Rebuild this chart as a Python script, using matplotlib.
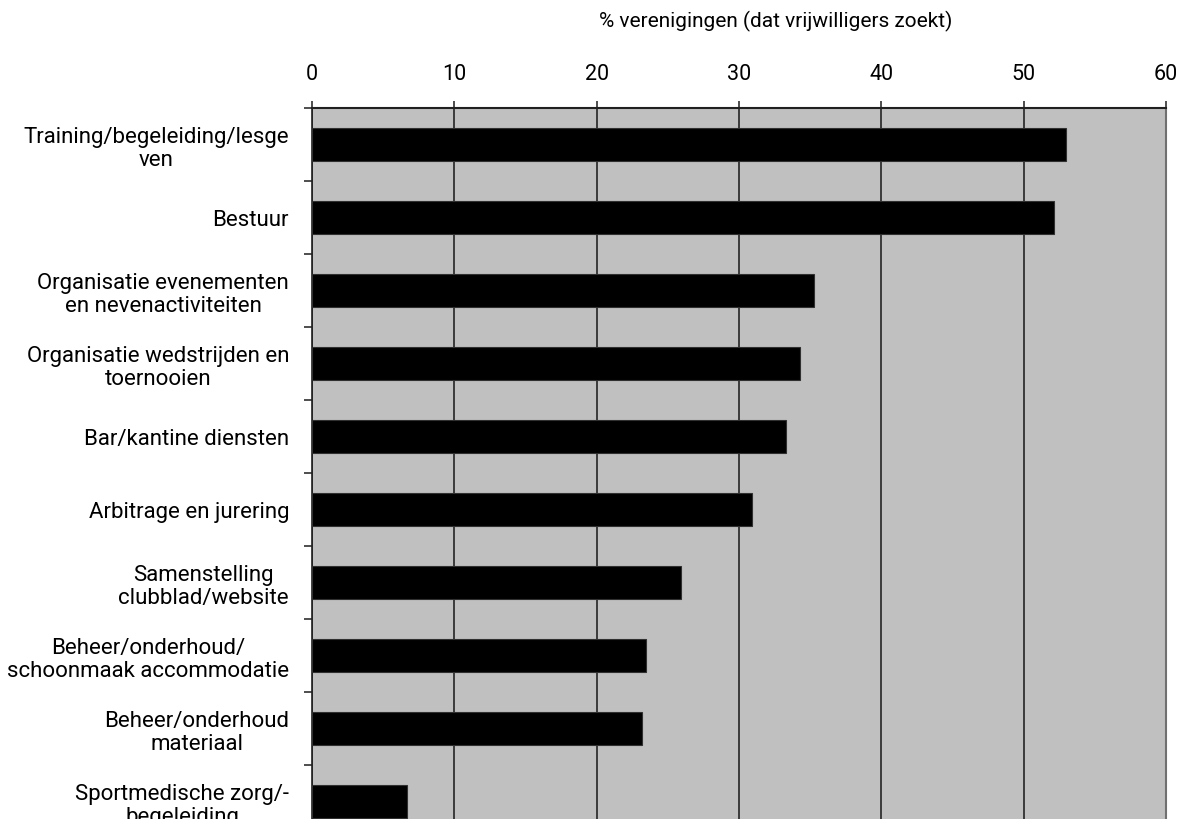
import matplotlib
matplotlib.use("Agg")
import matplotlib.pyplot as plt
import numpy as np

categories = [
    "Training/begeleiding/lesge\nven",
    "Bestuur",
    "Organisatie evenementen\nen nevenactiviteiten",
    "Organisatie wedstrijden en\ntoernooien",
    "Bar/kantine diensten",
    "Arbitrage en jurering",
    "Samenstelling\nclubblad/website",
    "Beheer/onderhoud/\nschoonmaak accommodatie",
    "Beheer/onderhoud\nmateriaal",
    "Sportmedische zorg/-\nbegeleiding",
]
values = [53.0, 52.1, 35.3, 34.3, 33.3, 30.9, 25.9, 23.5, 23.2, 6.7]
xticks = [0, 10, 20, 30, 40, 50, 60]
xlabel = "% verenigingen (dat vrijwilligers zoekt)"

FONT = ["Roboto", "DejaVu Sans"]
plt.rcParams["font.family"] = FONT

fig = plt.figure(figsize=(11.91, 8.20), dpi=100)
ax = fig.add_axes([312 / 1191, 0.0, (1166 - 312) / 1191, 1 - 109 / 820])
ax.set_facecolor("#C0C0C0")

y = np.arange(len(categories))
ax.barh(y, values, height=0.44, color="black", edgecolor="#303030", linewidth=0.8, zorder=3)

ax.xaxis.tick_top()
ax.set_xticks(xticks)
ax.set_xticklabels([str(t) for t in xticks], fontsize=15.5)
ax.tick_params(axis="x", direction="out", length=5, width=1.2, color="#303030", pad=12)
ax.grid(axis="x", color="#303030", linewidth=1.3, zorder=1)

ax.set_yticks(y)
ax.set_yticklabels(categories, fontsize=16, multialignment="center", linespacing=1.1)
ax.tick_params(axis="y", which="major", length=0, pad=16.5)
ax.set_yticks(np.arange(-0.5, 9.3, 1.0), minor=True)
ax.tick_params(axis="y", which="minor", direction="out", length=6, width=1.2, color="#303030")

ax.set_xlim(0, 60)
ax.set_ylim(9.24, -0.5)

ax.spines["bottom"].set_visible(False)
ax.spines["top"].set_color("#202020")
ax.spines["top"].set_linewidth(1.5)
ax.spines["left"].set_color("#202020")
ax.spines["left"].set_linewidth(1.2)
ax.spines["right"].set_color("#707070")
ax.spines["right"].set_linewidth(1.5)

fig.text(776 / 1191, 1 - 27 / 820, xlabel, ha="center", va="baseline", fontsize=15)

fig.savefig("out.png", dpi=100, facecolor="white")
